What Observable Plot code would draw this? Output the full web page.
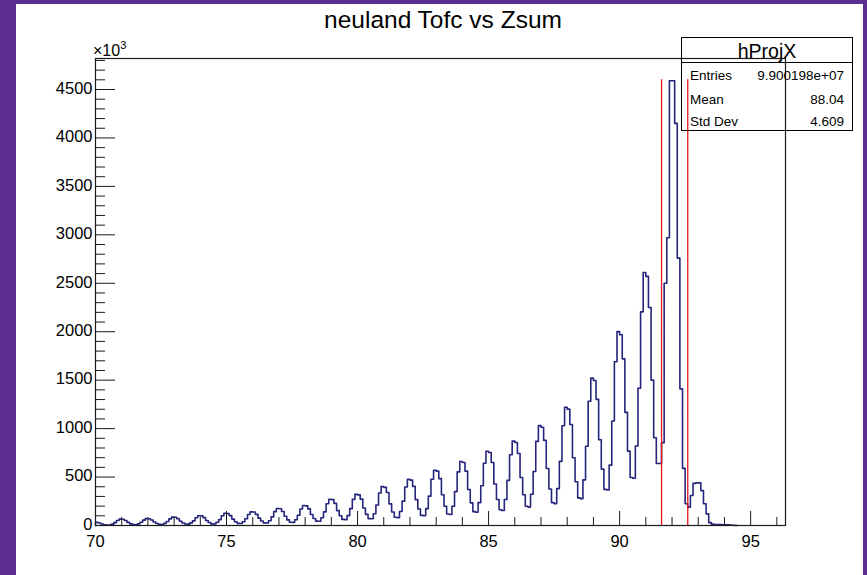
<!DOCTYPE html>
<html>
<head>
<meta charset="utf-8">
<script src="https://cdn.jsdelivr.net/npm/d3@7"></script>
<script src="https://cdn.jsdelivr.net/npm/@observablehq/plot@0.6"></script>
<style>
  html, body { margin: 0; padding: 0; width: 867px; height: 575px; overflow: hidden; background: #5b2c91; font-family: "Liberation Sans", Arial, sans-serif; }
  #panel { position: absolute; left: 16px; top: 4px; width: 847px; height: 571px; background: #ffffff; }
  #chart { position: absolute; left: 0; top: 0; }
  #title { position: absolute; left: 0; width: 886px; top: 8px; text-align: center; font-size: 24.5px; line-height: 1; color: #000; white-space: nowrap; }
  #exp { position: absolute; left: 93px; top: 41px; font-size: 16px; line-height: 1; color: #000; }
  #exp sup { font-size: 11px; position: relative; top: -1px; }
  #stats { position: absolute; left: 681px; top: 37px; width: 170px; height: 92px; border: 1px solid #000; background: transparent; color: #000; }
  #stats .head { position: absolute; left: 0; top: 0; width: 170px; height: 24px; border-bottom: 1px solid #000; text-align: center; font-size: 19.5px; line-height: 26px; }
  #stats .row { position: absolute; left: 8px; width: 154px; font-size: 13.5px; line-height: 1; }
  #stats .row span.v { position: absolute; right: 0; }
</style>
</head>
<body>
<div id="panel"></div>
<div id="chart"></div>
<div id="title"></div>
<div id="exp">×10<sup>3</sup></div>
<div id="stats"></div>
<script>
// ---- data (counts in units of 10^3) ----
const chartTitle = "neuland Tofc vs Zsum";
const histName = "hProjX";
const statLabels = ["Entries", "Mean", "Std Dev"];
const statValues = ["9.900198e+07", "88.04", "4.609"];

const binStart = 70;
const binWidth = 0.1;
const counts = [
  34, 26, 15, 8, 4,                                   // 70.0-70.5
  5, 14, 30, 52, 66, 65, 52, 32, 17, 9,               // 71
  8, 17, 33, 55, 71, 70, 57, 36, 21, 12,              // 72
  11, 22, 41, 68, 86, 85, 69, 44, 26, 15,             // 73
  14, 27, 48, 80, 101, 99, 81, 52, 31, 17,            // 74
  17, 33, 61, 101, 126, 124, 102, 66, 39, 22,         // 75
  20, 39, 70, 114, 141, 139, 115, 76, 46, 27,         // 76
  26, 49, 89, 143, 176, 173, 145, 96, 58, 34,         // 77
  32, 59, 106, 170, 206, 203, 172, 114, 73, 45,       // 78
  44, 80, 141, 225, 271, 267, 228, 154, 100, 63,      // 79
  61, 102, 174, 270, 321, 316, 272, 180, 115, 71,     // 80
  69, 122, 212, 336, 401, 394, 340, 223, 140, 85,     // 81
  81, 145, 252, 398, 476, 468, 404, 267, 170, 104,    // 82
  100, 174, 303, 478, 571, 561, 484, 317, 198, 119,   // 83
  113, 199, 350, 553, 661, 650, 561, 371, 234, 143,   // 84
  136, 236, 410, 642, 766, 753, 650, 428, 269, 163,   // 85
  155, 268, 466, 731, 871, 857, 743, 495, 318, 198,   // 86
  190, 322, 557, 868, 1031, 1014, 879, 588, 377, 236, // 87
  226, 381, 662, 1030, 1221, 1201, 1043, 700, 452, 285, // 88
  277, 471, 818, 1282, 1521, 1497, 1302, 885, 582, 373, // 89
  368, 623, 1078, 1690, 2001, 1969, 1720, 1168, 768, 496, // 90
  488, 820, 1416, 2205, 2611, 2571, 2250, 1500, 905, 640, // 91
  640, 855, 2500, 2970, 4590, 4590, 4150, 2760, 1410, 590, // 92
  225, 190, 310, 435, 440, 440, 360, 225, 120, 30,    // 93
  14, 10, 9, 11, 8, 7, 6, 5, 3, 0                     // 94
];

const xDomain = [70, 96.33];
const yDomain = [0, 4820];
const xMajorTicks = [70, 75, 80, 85, 90, 95];
const xMinorTicks = [71, 72, 73, 74, 76, 77, 78, 79, 81, 82, 83, 84, 86, 87, 88, 89, 91, 92, 93, 94, 96];
const yMajorTicks = [0, 500, 1000, 1500, 2000, 2500, 3000, 3500, 4000, 4500];
const yMinorTicks = d3.range(0, 4801, 100).filter(v => v % 500 !== 0);

const cutPositions = [91.6, 92.6];
const cutTop = 4600;

// ---- build ----
const hist = [{x: binStart, y: 0}]
  .concat(counts.map((c, i) => ({x: binStart + i * binWidth, y: c})))
  .concat([{x: binStart + counts.length * binWidth, y: 0}]);
const cuts = cutPositions.map(x => ({x, y1: 0, y2: cutTop}));

const axisColor = "#1a1a1a";
const plot = Plot.plot({
  width: 867,
  height: 575,
  marginLeft: 95,
  marginRight: 82,
  marginTop: 58,
  marginBottom: 50,
  style: {background: "transparent", fontFamily: "'Liberation Sans', Arial, sans-serif", fontSize: "16.5px", color: "#000", overflow: "visible"},
  x: {domain: xDomain},
  y: {domain: yDomain},
  marks: [
    Plot.line(hist, {x: "x", y: "y", curve: "step-after", stroke: "#25257e", strokeWidth: 1.6}),
    Plot.ruleX(cuts, {x: "x", y1: "y1", y2: "y2", stroke: "#e3161c", strokeWidth: 1.3}),
    // y axis: labels, major and minor inward ticks
    Plot.axisY({ticks: yMajorTicks, tickSize: 0, tickPadding: 3, dy: -1, tickFormat: d => String(d), label: null, fill: "#000", stroke: "none"}),
    Plot.axisY({ticks: yMajorTicks, tickSize: -20, fill: "none", stroke: axisColor, label: null}),
    Plot.axisY({ticks: yMinorTicks, tickSize: -10, fill: "none", stroke: axisColor, label: null}),
    // x axis
    Plot.axisX({ticks: xMajorTicks, tickSize: 0, tickPadding: 10, tickFormat: d => String(d), label: null, fill: "#000", stroke: "none"}),
    Plot.axisX({ticks: xMajorTicks, tickSize: -14, fill: "none", stroke: axisColor, label: null}),
    Plot.axisX({ticks: xMinorTicks, tickSize: -8, fill: "none", stroke: axisColor, label: null}),
    Plot.frame({stroke: axisColor, strokeWidth: 1.2})
  ]
});
document.getElementById("chart").appendChild(plot);

document.getElementById("title").textContent = chartTitle;

const stats = document.getElementById("stats");
const head = document.createElement("div");
head.className = "head";
head.textContent = histName;
stats.appendChild(head);
const rowTops = [31, 55, 77];
statLabels.forEach((lab, i) => {
  const r = document.createElement("div");
  r.className = "row";
  r.style.top = rowTops[i] + "px";
  r.innerHTML = "<span></span><span class='v'></span>";
  r.children[0].textContent = lab;
  r.children[1].textContent = statValues[i];
  stats.appendChild(r);
});
</script>
</body>
</html>
